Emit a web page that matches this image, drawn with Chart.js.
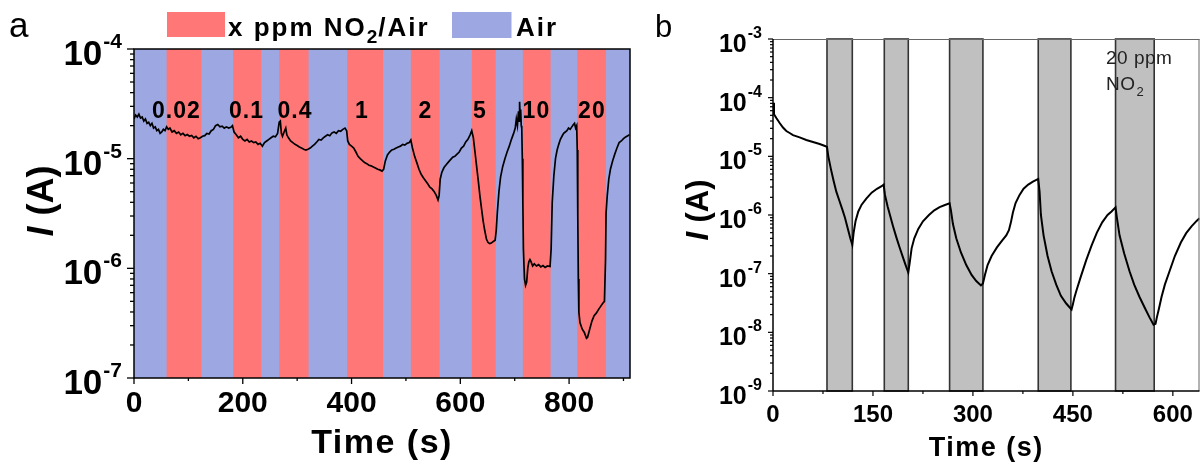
<!DOCTYPE html>
<html><head><meta charset="utf-8">
<script src="https://cdn.jsdelivr.net/npm/chart.js@4.4.1/dist/chart.umd.min.js"></script>
<style>
html,body{margin:0;padding:0;background:#fff;width:1203px;height:469px;overflow:hidden;}
#wa{position:absolute;left:0;top:0;width:645px;height:469px;}
#wb{position:absolute;left:645px;top:0;width:558px;height:469px;}
</style></head><body>
<div id="wa"><canvas id="ca"></canvas></div>
<div id="wb"><canvas id="cb"></canvas></div>
<script>
// ---------- Panel a data ----------
const timeA = [
0,3,6,9,12,15,18,21,24,27,
30,33,36,39,42,45,48,51,54,57,
60,63,66,70,74,78,82,86,90,94,
98,102,106,110,114,118,122,126,130,134,
138,142,146,150,154,158,162,166,170,174,
178,181,184,188,192,196,200,204,208,212,
216,220,224,228,232,236,240,244,248,252,
256,260,264,267,269,271,273,276,279,281,
284,288,292,296,300,304,308,312,316,320,
324,328,332,336,340,344,348,352,356,360,
364,368,372,376,380,384,388,391,393,396,
400,404,408,412,416,420,424,428,432,436,
440,444,448,452,456,459,462,466,470,474,
478,482,486,490,494,498,502,506,509,512,
516,520,524,528,532,536,540,544,548,552,
556,559,561,563,566,570,574,578,582,586,
590,594,598,602,606,610,614,618,621,624,
627,630,633,636,639,642,645,648,651,654,
657,660,664,666,668,671,674,678,682,686,
690,694,698,701,703,705,707,708,709,710,
711,712,713,714,715,716,718,720,722,724,
726,728,730,733,736,740,744,748,752,756,
760,765,767,769,772,775,778,781,784,787,
790,793,796,799,802,805,808,810,812,814,
815,816,817,818,820,824,828,832,834,838,
842,846,850,854,858,862,865,867,868,870,
873,876,880,884,888,892,896,900,904,908,
911];
const currentA = [
2.3e-5,2.5e-5,2.4e-5,2.55e-5,2.35e-5,2.4e-5,2.2e-5,2.3e-5,2.1e-5,2.15e-5,
2.0e-5,2.1e-5,1.9e-5,1.95e-5,1.8e-5,1.85e-5,1.7e-5,1.75e-5,1.85e-5,1.8e-5,
1.95e-5,1.85e-5,1.9e-5,1.75e-5,1.8e-5,1.7e-5,1.75e-5,1.65e-5,1.7e-5,1.62e-5,
1.66e-5,1.6e-5,1.63e-5,1.55e-5,1.6e-5,1.52e-5,1.55e-5,1.6e-5,1.62e-5,1.7e-5,
1.68e-5,1.8e-5,1.85e-5,2.0e-5,2.05e-5,1.95e-5,1.98e-5,1.9e-5,1.95e-5,1.9e-5,
1.93e-5,2.0e-5,1.75e-5,1.65e-5,1.55e-5,1.6e-5,1.5e-5,1.45e-5,1.5e-5,1.42e-5,
1.45e-5,1.4e-5,1.42e-5,1.35e-5,1.38e-5,1.3e-5,1.4e-5,1.45e-5,1.5e-5,1.55e-5,
1.6e-5,1.58e-5,1.7e-5,2.15e-5,2.2e-5,1.7e-5,1.6e-5,1.75e-5,1.9e-5,1.65e-5,
1.55e-5,1.45e-5,1.4e-5,1.35e-5,1.32e-5,1.28e-5,1.25e-5,1.22e-5,1.2e-5,1.22e-5,
1.25e-5,1.3e-5,1.35e-5,1.42e-5,1.5e-5,1.48e-5,1.55e-5,1.6e-5,1.65e-5,1.62e-5,
1.72e-5,1.75e-5,1.7e-5,1.8e-5,1.78e-5,1.85e-5,1.9e-5,1.8e-5,1.45e-5,1.35e-5,
1.3e-5,1.25e-5,1.15e-5,1.05e-5,1.0e-5,9.6e-6,9.2e-6,9.0e-6,8.7e-6,8.6e-6,
8.4e-6,8.2e-6,8.0e-6,7.9e-6,7.7e-6,8.0e-6,9.5e-6,1.08e-5,1.15e-5,1.2e-5,
1.22e-5,1.25e-5,1.28e-5,1.3e-5,1.35e-5,1.33e-5,1.38e-5,1.4e-5,1.48e-5,1.25e-5,
1.05e-5,9.2e-6,8.0e-6,7.2e-6,6.7e-6,6.3e-6,5.9e-6,5.5e-6,5.3e-6,5.0e-6,
4.6e-6,4.2e-6,4.6e-6,6.5e-6,7.5e-6,8.3e-6,8.8e-6,9.3e-6,9.8e-6,1.03e-5,
1.05e-5,1.1e-5,1.15e-5,1.25e-5,1.3e-5,1.42e-5,1.5e-5,1.65e-5,1.8e-5,1.55e-5,
1.15e-5,8.5e-6,6.3e-6,4.6e-6,3.5e-6,2.7e-6,2.2e-6,1.85e-6,1.72e-6,1.68e-6,
1.7e-6,1.75e-6,1.8e-6,2.2e-6,3.2e-6,5.0e-6,6.8e-6,8.5e-6,1.0e-5,1.15e-5,
1.3e-5,1.5e-5,1.7e-5,1.9e-5,2.3e-5,2.0e-5,2.7e-5,2.2e-5,3.3e-5,2.4e-5,
2.8e-5,2.0e-5,1.9e-5,1.0e-5,4.0e-6,1.5e-6,8.0e-7,7.0e-7,7.5e-7,1.0e-6,
1.15e-6,1.2e-6,1.15e-6,1.05e-6,1.1e-6,1.05e-6,1.08e-6,1.03e-6,1.06e-6,1.02e-6,
1.05e-6,1.04e-6,1.5e-6,4.0e-6,7.0e-6,1.0e-5,1.2e-5,1.35e-5,1.5e-5,1.6e-5,
1.7e-5,1.75e-5,1.8e-5,1.9e-5,1.85e-5,1.95e-5,2.05e-5,2.1e-5,1.9e-5,2.0e-5,
1.2e-5,3.0e-6,8.0e-7,4.0e-7,3.2e-7,2.8e-7,2.6e-7,2.3e-7,2.35e-7,2.8e-7,
3.3e-7,3.7e-7,3.9e-7,4.2e-7,4.5e-7,4.8e-7,5.0e-7,1.2e-6,3.2e-6,4.5e-6,
6.5e-6,8.0e-6,9.5e-6,1.1e-5,1.25e-5,1.4e-5,1.45e-5,1.52e-5,1.58e-5,1.62e-5,
1.65e-5];
const no2StartA = [60,182,267,392,509,621,715,815];
const no2EndA   = [124,234,321,458,562,665,766,868];
const concLabels = ['0.02','0.1','0.4','1','2','5','10','20'];
const concLabelTime = [77,206,295,418,535,635,739,841];
const xTicksA = [0,200,400,600,800];
const yExpA = [-7,-6,-5,-4];
const legendA = ['x ppm NO', '2', '/Air', 'Air'];

// ---------- Panel b data ----------
const timeB = [
0,1.5,5,10,15,20,25,30,40,50,
60,70,78,81,83,87,91,95,100,104,
108,112,116,119,121,124,128,133,140,148,
156,163,166,168,172,176,180,185,190,195,
199,203,205,208,212,218,225,234,242,250,
258,265,267,270,275,282,290,298,305,312,
315,318,322,328,336,344,350,354,357,360,
364,370,376,383,390,396,398,400,402,406,
412,418,425,432,440,446,448,450,452,455,
462,470,478,486,494,502,508,514,516,520,
527,535,542,550,558,565,571,574,576,579,
583,588,595,603,612,620,628,636,640];
const currentB = [
8.2e-5,5.2e-5,4.5e-5,3.7e-5,3.1e-5,2.7e-5,2.5e-5,2.3e-5,2.1e-5,1.9e-5,
1.75e-5,1.62e-5,1.5e-5,1.45e-5,1.0e-5,6.0e-6,3.8e-6,2.5e-6,1.7e-6,1.25e-6,
9.0e-7,6.0e-7,4.0e-7,3.1e-7,5.0e-7,8.0e-7,1.15e-6,1.5e-6,1.9e-6,2.4e-6,
2.8e-6,3.1e-6,3.3e-6,2.2e-6,1.4e-6,9.5e-7,6.5e-7,4.2e-7,2.8e-7,1.9e-7,
1.4e-7,1.05e-7,1.5e-7,2.7e-7,4.0e-7,5.8e-7,7.8e-7,1.0e-6,1.2e-6,1.36e-6,
1.48e-6,1.58e-6,1.2e-6,7.0e-7,4.0e-7,2.3e-7,1.4e-7,9.5e-8,7.5e-8,6.3e-8,
6.8e-8,9.5e-8,1.4e-7,2.0e-7,2.8e-7,3.7e-7,4.5e-7,5.5e-7,7.5e-7,1.1e-6,
1.6e-6,2.2e-6,2.8e-6,3.3e-6,3.7e-6,4.0e-6,4.1e-6,2.5e-6,1.0e-6,4.5e-7,
2.0e-7,1.1e-7,6.5e-8,4.2e-8,3.1e-8,2.6e-8,2.45e-8,3.0e-8,3.8e-8,5.0e-8,
9.0e-8,1.7e-7,3.0e-7,5.0e-7,7.5e-7,1.0e-6,1.15e-6,1.35e-6,9.0e-7,4.5e-7,
2.2e-7,1.1e-7,6.5e-8,4.0e-8,2.6e-8,1.8e-8,1.35e-8,1.4e-8,1.8e-8,2.5e-8,
4.0e-8,6.5e-8,1.1e-7,2.0e-7,3.4e-7,4.9e-7,6.4e-7,8.0e-7,8.8e-7];
const no2StartB = [81,167,265,398,514];
const no2EndB   = [119,203,315,447,572];
const xTicksB = [0,150,300,450,600];
const yExpB = [-9,-8,-7,-6,-5,-4,-3];
const noteB = ['20 ppm', 'NO', '2'];

// ---------- helpers ----------
const FAM = '"Liberation Sans", Arial, Helvetica, sans-serif';
const NO2_COLOR = '#FF7777';
const AIR_COLOR = '#9DA8E2';
function spacing(ctx, px){ if ('letterSpacing' in ctx) ctx.letterSpacing = px + 'px'; }
function line(ctx, x1, y1, x2, y2){ ctx.beginPath(); ctx.moveTo(x1, y1); ctx.lineTo(x2, y2); ctx.stroke(); }
function drawLogTicks(ctx, ys, xPix, exps, majorLen, minorLen){
  const eMin = Math.min(...exps), eMax = Math.max(...exps);
  for (let e = eMin; e <= eMax; e++) {
    for (let k = 1; k <= 9; k++) {
      if (e === eMax && k > 1) break;
      const p = ys.getPixelForValue(k * Math.pow(10, e));
      line(ctx, xPix - (k === 1 ? majorLen : minorLen), p, xPix, p);
    }
  }
}
function drawLinTicks(ctx, xs, yPix, major, minor, max, majorLen, minorLen){
  for (let v = 0; v <= max + 1e-9; v += minor) {
    const p = xs.getPixelForValue(v);
    const isMajor = Math.abs(v / major - Math.round(v / major)) < 1e-6;
    line(ctx, p, yPix, p, yPix + (isMajor ? majorLen : minorLen));
  }
}
function drawPowLabels(ctx, ys, exps, xRight, baseSize, supSize, baseOff, supOff){
  ctx.fillStyle = '#000'; ctx.textAlign = 'left'; ctx.textBaseline = 'alphabetic';
  exps.forEach(e => {
    const p = ys.getPixelForValue(Math.pow(10, e));
    const sup = '-' + Math.abs(e);
    ctx.font = `bold ${baseSize}px ${FAM}`; const w1 = ctx.measureText('10').width;
    ctx.font = `bold ${supSize}px ${FAM}`; const w2 = ctx.measureText(sup).width;
    const x0 = xRight - w1 - w2 - 1;
    ctx.font = `bold ${baseSize}px ${FAM}`; ctx.fillText('10', x0, p + baseOff);
    ctx.font = `bold ${supSize}px ${FAM}`; ctx.fillText(sup, x0 + w1 + 1, p + supOff);
  });
}
function drawYTitle(ctx, cx, cy, size){
  ctx.save(); ctx.translate(cx, cy); ctx.rotate(-Math.PI / 2);
  const fI = `italic bold ${size}px ${FAM}`, fR = `bold ${size}px ${FAM}`;
  ctx.font = fI; const w1 = ctx.measureText('I').width + size * 0.3;
  ctx.font = fR; const w2 = ctx.measureText('(A)').width;
  let x = -(w1 + w2) / 2;
  ctx.fillStyle = '#000'; ctx.textAlign = 'left'; ctx.textBaseline = 'middle';
  ctx.font = fI; ctx.fillText('I', x, 0);
  ctx.font = fR; ctx.fillText('(A)', x + w1, 0);
  ctx.restore();
}
function drawText(ctx, s, x, y, font, align, sp, color){
  ctx.font = font; ctx.textAlign = align || 'left'; ctx.textBaseline = 'alphabetic';
  ctx.fillStyle = color || '#000'; spacing(ctx, sp || 0);
  ctx.fillText(s, x, y);
  const w = ctx.measureText(s).width;
  spacing(ctx, 0);
  return w;
}

// ---------- Panel a ----------
const pluginA = {
  id: 'panelA',
  beforeDatasetsDraw(chart){
    const {ctx, chartArea: ca, scales: {x}} = chart;
    ctx.save();
    ctx.fillStyle = AIR_COLOR; ctx.fillRect(ca.left, ca.top, ca.right - ca.left, ca.bottom - ca.top);
    ctx.fillStyle = NO2_COLOR;
    no2StartA.forEach((s, i) => {
      const x1 = x.getPixelForValue(s), x2 = x.getPixelForValue(no2EndA[i]);
      ctx.fillRect(x1, ca.top, x2 - x1, ca.bottom - ca.top);
    });
    ctx.restore();
  },
  afterDraw(chart){
    const {ctx, chartArea: ca, scales: {x, y}} = chart;
    ctx.save();
    ctx.strokeStyle = '#000'; ctx.lineWidth = 1.5;
    ctx.strokeRect(ca.left, ca.top, ca.right - ca.left, ca.bottom - ca.top);
    ctx.lineWidth = 1.3;
    drawLogTicks(ctx, y, ca.left, yExpA, 7, 4);
    drawLinTicks(ctx, x, ca.bottom, 200, 100, 912, 6, 3);
    drawPowLabels(ctx, y, yExpA, 122, 35, 21, 16, -1);
    // concentration labels
    const ly = y.getPixelForValue(2.78e-5);
    concLabels.forEach((s, i) => {
      drawText(ctx, s, x.getPixelForValue(concLabelTime[i]) + 0.5, ly + 8, `bold 23px ${FAM}`, 'center', 1);
    });
    // titles
    drawText(ctx, 'Time (s)', (ca.left + ca.right) / 2, 453, `bold 34px ${FAM}`, 'center', 1.5);
    drawYTitle(ctx, 43, 201, 36);
    // legend
    ctx.fillStyle = NO2_COLOR; ctx.fillRect(167, 12, 58, 25);
    let px = 228;
    px += drawText(ctx, legendA[0], px, 36, `bold 26px ${FAM}`, 'left', 2);
    px += drawText(ctx, legendA[1], px, 43, `bold 19px ${FAM}`, 'left', 1);
    drawText(ctx, legendA[2], px, 36, `bold 26px ${FAM}`, 'left', 2);
    ctx.fillStyle = AIR_COLOR; ctx.fillRect(452, 12, 59.5, 26);
    drawText(ctx, legendA[3], 516, 36, `bold 26px ${FAM}`, 'left', 2);
    // panel letter
    drawText(ctx, 'a', 9, 37, `35px ${FAM}`, 'left', 0);
    ctx.restore();
  }
};

new Chart(document.getElementById('ca'), {
  type: 'line',
  data: { datasets: [{
    data: timeA.map((t, i) => ({x: t, y: currentA[i]})),
    borderColor: '#000', borderWidth: 1.7, pointRadius: 0, tension: 0, fill: false
  }]},
  options: {
    responsive: true, maintainAspectRatio: false, animation: false, devicePixelRatio: 1,
    layout: { padding: {left: 0, top: 49, right: 15, bottom: 0} },
    plugins: { legend: {display: false}, tooltip: {enabled: false} },
    scales: {
      x: { type: 'linear', min: 0, max: 912,
        afterBuildTicks: s => { s.ticks = xTicksA.map(v => ({value: v})); },
        afterFit: s => { s.height = 91; },
        grid: {display: false, drawTicks: false}, border: {display: false},
        ticks: {color: '#000', font: {family: FAM, size: 30, weight: 'bold'}, padding: 8, maxRotation: 0, autoSkip: false}
      },
      y: { type: 'logarithmic', min: 1e-7, max: 1e-4,
        afterFit: s => { s.width = 134; },
        grid: {display: false, drawTicks: false}, border: {display: false},
        ticks: {display: false}
      }
    }
  },
  plugins: [pluginA]
});

// ---------- Panel b ----------
const pluginB = {
  id: 'panelB',
  beforeDatasetsDraw(chart){
    const {ctx, chartArea: ca, scales: {x}} = chart;
    ctx.save();
    ctx.fillStyle = '#C0C0C0'; ctx.strokeStyle = '#333'; ctx.lineWidth = 1.6;
    no2StartB.forEach((s, i) => {
      const x1 = x.getPixelForValue(s), x2 = x.getPixelForValue(no2EndB[i]);
      ctx.fillRect(x1, ca.top, x2 - x1, ca.bottom - ca.top);
      ctx.strokeRect(x1, ca.top, x2 - x1, ca.bottom - ca.top);
    });
    ctx.restore();
  },
  afterDraw(chart){
    const {ctx, chartArea: ca, scales: {x, y}} = chart;
    ctx.save();
    ctx.strokeStyle = '#666'; ctx.lineWidth = 1;
    line(ctx, ca.left, ca.top + 0.5, ca.right, ca.top + 0.5);
    line(ctx, ca.right - 0.5, ca.top, ca.right - 0.5, ca.bottom);
    ctx.strokeStyle = '#000'; ctx.lineWidth = 1.5;
    line(ctx, ca.left, ca.top, ca.left, ca.bottom);
    line(ctx, ca.left, ca.bottom, ca.right, ca.bottom);
    ctx.lineWidth = 1.2;
    drawLogTicks(ctx, y, ca.left, yExpB, 5, 3);
    drawLinTicks(ctx, x, ca.bottom, 150, 75, 640, 5, 3);
    drawPowLabels(ctx, y, yExpB, 117, 25, 16, 13, -1);
    drawText(ctx, 'Time (s)', (ca.left + ca.right) / 2, 456, `bold 27px ${FAM}`, 'center', 1.5);
    drawYTitle(ctx, 54, 210, 31);
    // note
    drawText(ctx, noteB[0], 461, 64, `19px ${FAM}`, 'left', 0.5, '#222');
    const w = drawText(ctx, noteB[1], 461, 90, `19px ${FAM}`, 'left', 0.5, '#222');
    drawText(ctx, noteB[2], 461 + w + 1, 96, `13px ${FAM}`, 'left', 0, '#222');
    drawText(ctx, 'b', 10, 37, `31px ${FAM}`, 'left', 0);
    ctx.restore();
  }
};

new Chart(document.getElementById('cb'), {
  type: 'line',
  data: { datasets: [{
    data: timeB.map((t, i) => ({x: t, y: currentB[i]})),
    borderColor: '#000', borderWidth: 2, pointRadius: 0, tension: 0, fill: false
  }]},
  options: {
    responsive: true, maintainAspectRatio: false, animation: false, devicePixelRatio: 1,
    layout: { padding: {left: 0, top: 39, right: 2, bottom: 0} },
    plugins: { legend: {display: false}, tooltip: {enabled: false} },
    scales: {
      x: { type: 'linear', min: 0, max: 640,
        afterBuildTicks: s => { s.ticks = xTicksB.map(v => ({value: v})); },
        afterFit: s => { s.height = 78; },
        grid: {display: false, drawTicks: false}, border: {display: false},
        ticks: {color: '#000', font: {family: FAM, size: 24, weight: 'bold'}, padding: 10, maxRotation: 0, autoSkip: false}
      },
      y: { type: 'logarithmic', min: 1e-9, max: 1e-3,
        afterFit: s => { s.width = 128; },
        grid: {display: false, drawTicks: false}, border: {display: false},
        ticks: {display: false}
      }
    }
  },
  plugins: [pluginB]
});
</script>
</body></html>
